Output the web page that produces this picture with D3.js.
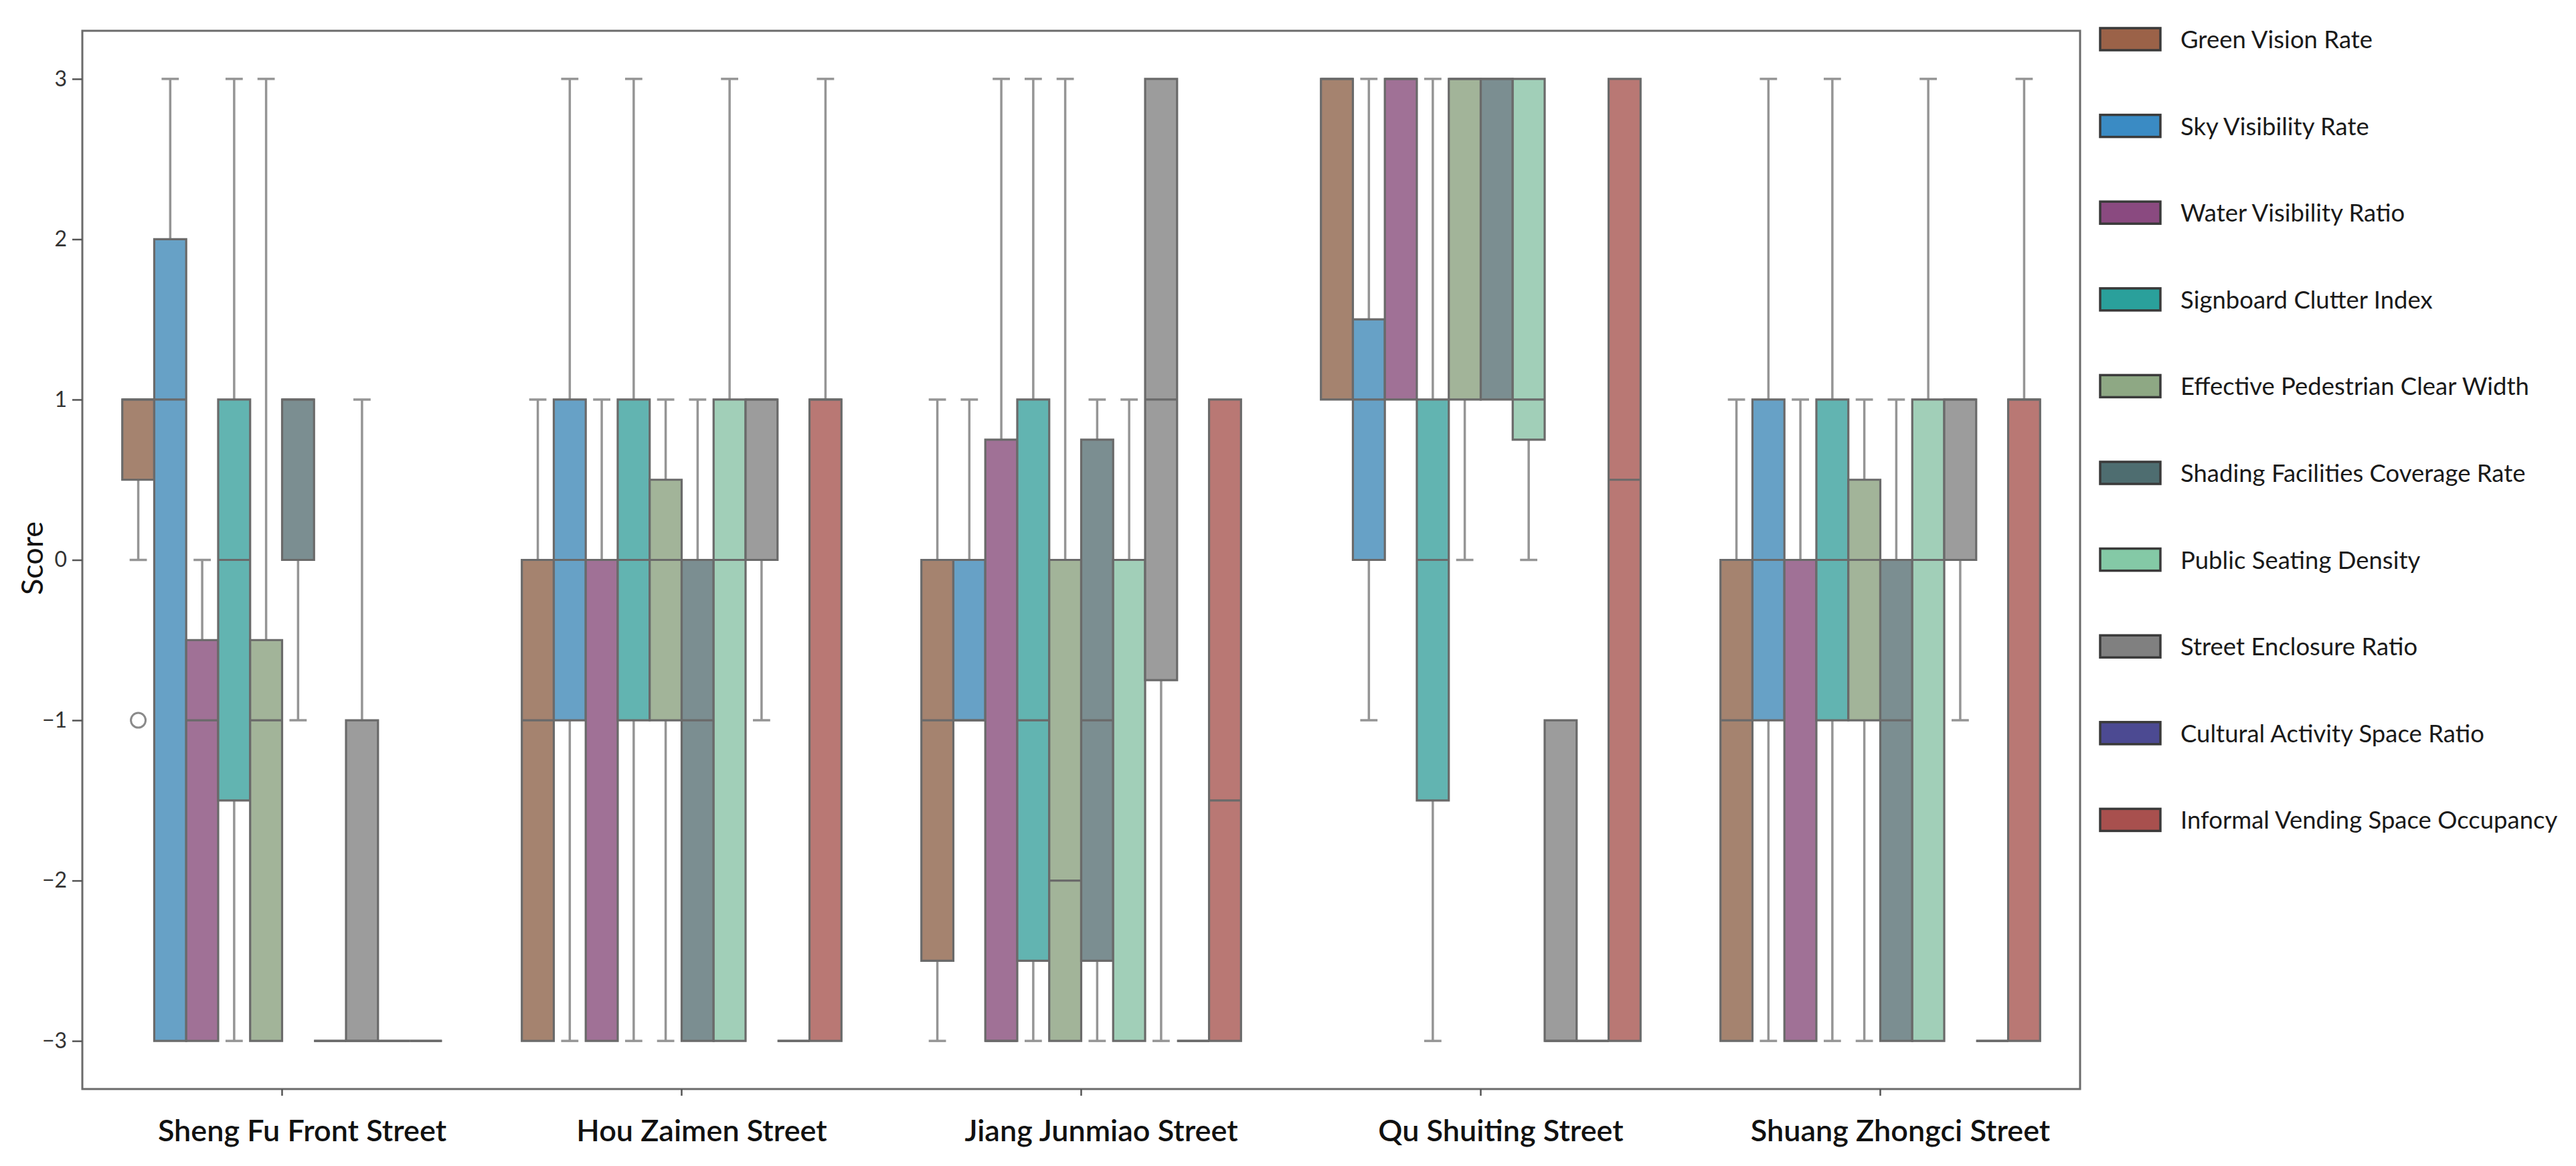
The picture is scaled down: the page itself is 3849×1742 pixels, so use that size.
<!DOCTYPE html>
<html>
<head>
<meta charset="utf-8">
<script src="https://cdn.jsdelivr.net/npm/d3@7"></script>
<style>
  html, body { margin: 0; padding: 0; background: #fff; }
  svg { display: block; }
  text { font-family: Lato, "Open Sans", sans-serif; }
</style>
</head>
<body>
<svg id="chart"></svg>
<script>
/* box plot of indicator scores per street */

const streets = ["Sheng Fu Front Street", "Hou Zaimen Street", "Jiang Junmiao Street",
                 "Qu Shuiting Street", "Shuang Zhongci Street"];

const indicators = ["Green Vision Rate", "Sky Visibility Rate", "Water Visibility Ratio",
  "Signboard Clutter Index", "Effective Pedestrian Clear Width", "Shading Facilities Coverage Rate",
  "Public Seating Density", "Street Enclosure Ratio", "Cultural Activity Space Ratio",
  "Informal Vending Space Occupancy"];

const yTicks = [-3, -2, -1, 0, 1, 2, 3];

/* one row per indicator, one column per street */
const whiskerLow = [
  [ 0, -3, -3,  1, -3],
  [-3, -3, -1, -1, -3],
  [-3, -3, -3,  1, -3],
  [-3, -3, -3, -3, -3],
  [-3, -3, -3,  0, -3],
  [-1, -3, -3,  1, -3],
  [-3, -3, -3,  0, -3],
  [-3, -1, -3, -3, -1],
  [-3, -3, -3, -3, -3],
  [-3, -3, -3, -3, -3]
];
const q1 = [
  [ 0.5, -3,   -2.5,  1,    -3],
  [-3,   -1,   -1,    0,    -1],
  [-3,   -3,   -3,    1,    -3],
  [-1.5, -1,   -2.5, -1.5,  -1],
  [-3,   -1,   -3,    1,    -1],
  [ 0,   -3,   -2.5,  1,    -3],
  [-3,   -3,   -3,    0.75, -3],
  [-3,    0,   -0.75, -3,    0],
  [-3,   -3,   -3,   -3,    -3],
  [-3,   -3,   -3,   -3,    -3]
];
const medians = [
  [ 1, -1, -1,   3,   -1],
  [ 1,  0, -1,   1,    0],
  [-1,  0, -3,   3,    0],
  [ 0,  0, -1,   0,    0],
  [-1,  0, -2,   3,    0],
  [ 1, -1, -1,   3,   -1],
  [-3,  0,  0,   1,    0],
  [-3,  1,  1,  -3,    1],
  [-3, -3, -3,  -3,   -3],
  [-3,  1, -1.5, 0.5,  1]
];
const q3 = [
  [ 1,    0,  0,    3,   0],
  [ 2,    1,  0,    1.5, 1],
  [-0.5,  0,  0.75, 3,   0],
  [ 1,    1,  1,    1,   1],
  [-0.5,  0.5, 0,   3,   0.5],
  [ 1,    0,  0.75, 3,   0],
  [-3,    1,  0,    3,   1],
  [-1,    1,  3,   -1,   1],
  [-3,   -3, -3,   -3,  -3],
  [-3,    1,  1,    3,   1]
];
const whiskerHigh = [
  [1,  1, 1,  3, 1],
  [3,  3, 1,  3, 3],
  [0,  1, 3,  3, 1],
  [3,  3, 3,  3, 3],
  [3,  1, 3,  3, 1],
  [1,  1, 1,  3, 1],
  [-3, 3, 1,  3, 3],
  [1,  1, 3, -1, 1],
  [-3, -3, -3, -3, -3],
  [-3, 3, 1,  3, 3]
];
/* outliers: [indicator index, street index, value] */
const outliers = [[0, 0, -1]];

const boxColors = ["#a5836f", "#67a1c6", "#a07196", "#62b4b1", "#a2b499",
                   "#7b8e91", "#a1cfb8", "#9c9c9c", "#6a6a9e", "#b97874"];
const legendColors = ["#9b6248", "#3a8bc4", "#8a4a80", "#2aa09b", "#8ea884",
                      "#4e6d70", "#84c9a6", "#808080", "#4c4a92", "#a8504e"];

const W = 3849, H = 1742;
const plot = { left: 123, right: 3108, top: 46, bottom: 1627 };

const svg = d3.select("#chart").attr("width", W).attr("height", H);
svg.append("rect").attr("width", W).attr("height", H).attr("fill", "#fff");

const x = d3.scaleBand().domain(streets).range([plot.left, plot.right]);
const xInner = d3.scaleBand().domain(indicators)
  .range([x.bandwidth() * 0.1, x.bandwidth() * 0.9]);
const y = d3.scaleLinear().domain([-3.3, 3.3]).range([plot.bottom, plot.top]);

const bw = xInner.bandwidth();
const edge = "#6a6a6a", whiskerCol = "#959595";

/* flatten stats */
const boxes = [];
indicators.forEach((ind, i) => {
  streets.forEach((st, j) => {
    boxes.push({
      i, j,
      x0: x(st) + xInner(ind),
      lo: whiskerLow[i][j], q1: q1[i][j], med: medians[i][j],
      q3: q3[i][j], hi: whiskerHigh[i][j]
    });
  });
});

const g = svg.append("g");

/* whiskers and caps */
boxes.forEach(b => {
  const cx = b.x0 + bw / 2;
  [[b.q1, b.lo], [b.q3, b.hi]].forEach(([from, to]) => {
    if (from === to) return;
    g.append("line")
      .attr("x1", cx).attr("x2", cx)
      .attr("y1", y(from)).attr("y2", y(to))
      .attr("stroke", whiskerCol).attr("stroke-width", 3.5);
    g.append("line")
      .attr("x1", cx - bw * 0.27).attr("x2", cx + bw * 0.27)
      .attr("y1", y(to)).attr("y2", y(to))
      .attr("stroke", whiskerCol).attr("stroke-width", 3.5);
  });
});

/* boxes as paths so zero-height boxes still draw a line */
g.selectAll("path.box").data(boxes).join("path")
  .attr("class", "box")
  .attr("d", b => `M${b.x0},${y(b.q3)}H${b.x0 + bw}V${y(b.q1)}H${b.x0}Z`)
  .attr("fill", b => boxColors[b.i])
  .attr("stroke", edge).attr("stroke-width", 3.2)
  .attr("stroke-linejoin", "miter");

/* medians */
g.selectAll("line.med").data(boxes).join("line")
  .attr("class", "med")
  .attr("x1", b => b.x0).attr("x2", b => b.x0 + bw)
  .attr("y1", b => y(b.med)).attr("y2", b => y(b.med))
  .attr("stroke", edge).attr("stroke-width", 3.2);

/* outliers */
g.selectAll("circle.out").data(outliers).join("circle")
  .attr("class", "out")
  .attr("cx", d => x(streets[d[1]]) + xInner(indicators[d[0]]) + bw / 2)
  .attr("cy", d => y(d[2]))
  .attr("r", 11)
  .attr("fill", "none").attr("stroke", "#8a8a8a").attr("stroke-width", 3);

/* frame */
svg.append("rect")
  .attr("x", plot.left).attr("y", plot.top)
  .attr("width", plot.right - plot.left).attr("height", plot.bottom - plot.top)
  .attr("fill", "none").attr("stroke", "#6b6b6b").attr("stroke-width", 3);

/* y axis */
const yAxis = svg.append("g")
  .attr("transform", `translate(${plot.left},0)`)
  .call(d3.axisLeft(y).tickValues(yTicks).tickSize(15).tickPadding(8)
    .tickFormat(d => d < 0 ? "\u2212" + Math.abs(d) : d));
yAxis.select(".domain").remove();
yAxis.selectAll(".tick line").attr("stroke", "#555").attr("stroke-width", 2.5);
yAxis.selectAll(".tick text")
  .attr("font-size", 32).attr("fill", "#333").style("font-family", "Lato, sans-serif");

/* x axis */
const xAxis = svg.append("g")
  .attr("transform", `translate(0,${plot.bottom})`)
  .call(d3.axisBottom(x).tickSize(10).tickFormat(""));
xAxis.select(".domain").remove();
xAxis.selectAll(".tick line").attr("stroke", "#555").attr("stroke-width", 2.5);

svg.append("g").selectAll("text").data(streets).join("text")
  .attr("x", d => x(d) + x.bandwidth() / 2 + 30)
  .attr("y", 1705)
  .attr("text-anchor", "middle")
  .attr("font-size", 45)
  .attr("font-weight", 600)
  .attr("fill", "#111")
  .text(d => d);

/* y label */
svg.append("text")
  .attr("transform", "translate(64,834) rotate(-90)")
  .attr("text-anchor", "middle")
  .attr("font-size", 45)
  .attr("fill", "#111")
  .text("Score");

/* legend */
const legend = svg.append("g").attr("transform", "translate(3138,58)");
const item = legend.selectAll("g").data(indicators).join("g")
  .attr("transform", (d, i) => `translate(0,${i * 129.6})`);
item.append("rect")
  .attr("x", 0).attr("y", -16).attr("width", 90).attr("height", 33)
  .attr("fill", (d, i) => legendColors[i])
  .attr("stroke", "#3a3a3a").attr("stroke-width", 3.5);
item.append("text")
  .attr("x", 120).attr("y", 0)
  .attr("dominant-baseline", "central")
  .attr("font-size", 36.5)
  .attr("fill", "#1a1a1a")
  .text(d => d);
</script>
</body>
</html>
